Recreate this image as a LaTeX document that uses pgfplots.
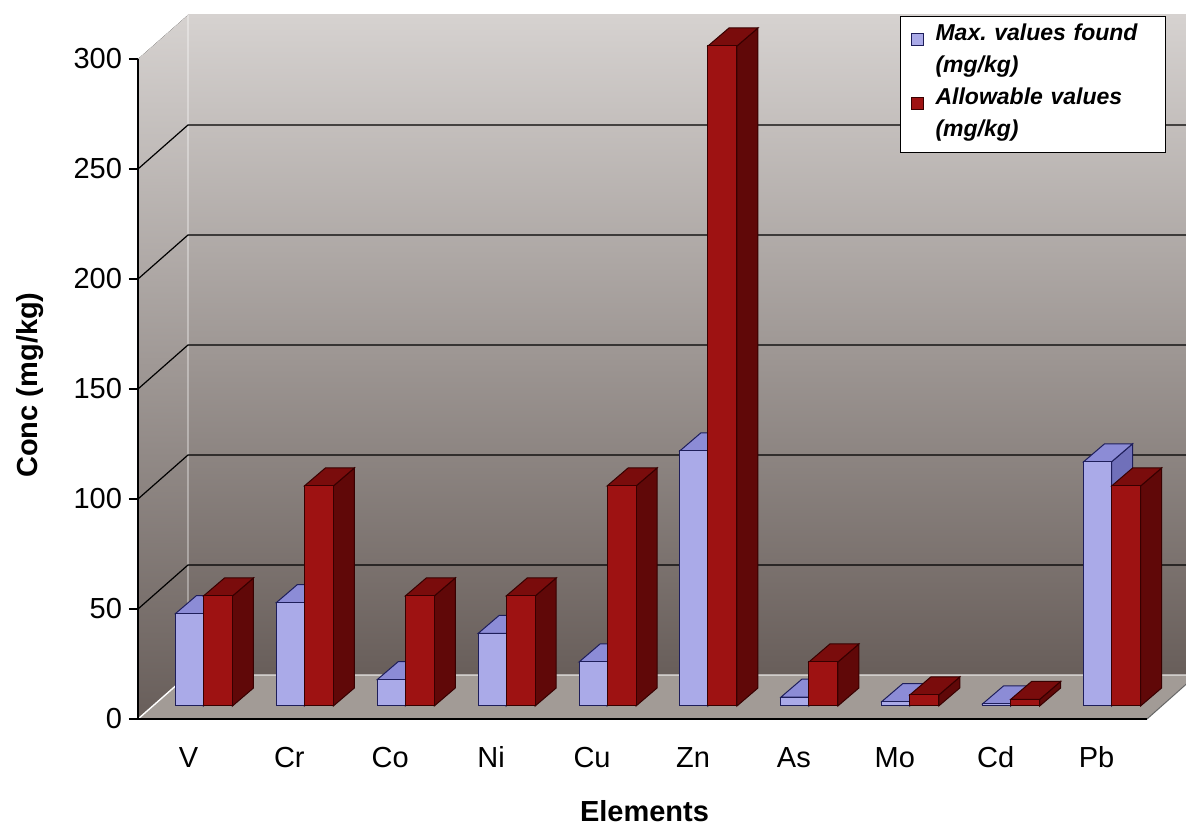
\documentclass[border=0pt]{standalone}
\usepackage{fontspec}
\setmainfont{Liberation Sans}
\usepackage{pgfplots}
\pgfplotsset{compat=1.18}

\definecolor{maxfront}{RGB}{170,170,232}
\definecolor{maxtop}{RGB}{140,140,214}
\definecolor{maxside}{RGB}{112,112,186}
\definecolor{maxedge}{RGB}{30,30,90}
\definecolor{alwfront}{RGB}{158,18,18}
\definecolor{alwtop}{RGB}{122,12,12}
\definecolor{alwside}{RGB}{96,8,8}
\definecolor{alwedge}{RGB}{55,0,0}
\definecolor{walltop}{RGB}{214,210,208}
\definecolor{wallbot}{RGB}{104,94,90}
\definecolor{floorc}{RGB}{162,155,150}

% 3-D column drawn as a plot mark; the mark origin is the data point (category, value).
% \fx,\fy: offset of the column front into the depth; \bx,\by: column depth; 1.1pt per unit.
\def\fx{7.5pt}\def\fy{6.5pt}\def\bx{10.5pt}\def\by{9pt}
\newcommand\threedbar[6]{% left, right, front, top, side, edge
  \pgfmathsetlengthmacro\bh{\barval*1.1pt}%
  \pgfsetlinewidth{0.5pt}%
  \pgfsetstrokecolor{#6}%
  \pgfsetfillcolor{#5}%
  \pgfpathmoveto{\pgfpoint{#2+\fx}{\fy-\bh}}%
  \pgfpathlineto{\pgfpoint{#2+\fx}{\fy}}%
  \pgfpathlineto{\pgfpoint{#2+\fx+\bx}{\fy+\by}}%
  \pgfpathlineto{\pgfpoint{#2+\fx+\bx}{\fy+\by-\bh}}%
  \pgfpathclose
  \pgfusepath{fill,stroke}%
  \pgfsetfillcolor{#4}%
  \pgfpathmoveto{\pgfpoint{#1+\fx}{\fy}}%
  \pgfpathlineto{\pgfpoint{#2+\fx}{\fy}}%
  \pgfpathlineto{\pgfpoint{#2+\fx+\bx}{\fy+\by}}%
  \pgfpathlineto{\pgfpoint{#1+\fx+\bx}{\fy+\by}}%
  \pgfpathclose
  \pgfusepath{fill,stroke}%
  \pgfsetfillcolor{#3}%
  \pgfpathrectanglecorners{\pgfpoint{#1+\fx}{\fy-\bh}}{\pgfpoint{#2+\fx}{\fy}}%
  \pgfusepath{fill,stroke}%
}
\pgfdeclareplotmark{barmax}{\threedbar{-14pt}{0pt}{maxfront}{maxtop}{maxside}{maxedge}}
\pgfdeclareplotmark{barallow}{\threedbar{0pt}{14.5pt}{alwfront}{alwtop}{alwside}{alwedge}}

\begin{document}
\begin{tikzpicture}
\path[use as bounding box] (0,0) rectangle (593pt,414pt);
\clip (0,0) rectangle (593pt,414pt);
\begin{axis}[
  at={(69pt,54.5pt)}, anchor=south west,
  x=50.45pt, y=1.1pt,
  xmin=-0.5, xmax=9.5, ymin=0, ymax=300,
  axis on top, clip=false,
  axis x line*=bottom, axis y line*=left,
  axis line style={black, line width=0.6pt},
  tick align=outside,
  tick style={black, line width=0.6pt},
  major tick length=4.5pt, minor tick length=6pt,
  xtick=\empty,
  minor xtick={-0.5,0.5,...,9.5},
  extra x ticks={0,1,2,3,4,5,6,7,8,9},
  extra x tick labels={V,Cr,Co,Ni,Cu,Zn,As,Mo,Cd,Pb},
  extra x tick style={major tick length=0pt,
    xticklabel style={anchor=base, yshift=-24pt}},
  ytick={0,50,...,300},
  /pgf/number format/assume math mode=true,
  ticklabel style={font=\fontsize{14.5}{17}\selectfont},
  xlabel={Elements},
  ylabel={Conc (mg/kg)},
  label style={font=\fontsize{14.5}{17}\selectfont\bfseries},
  xlabel style={at={(axis description cs:0.502,-0.14)}, anchor=center},
  ylabel style={at={(axis description cs:-0.107,0.506)}, anchor=center},
  legend style={at={(1.019,1.065)}, anchor=north east,
    draw=black, line width=0.6pt, fill=white,
    font=\fontsize{11.5}{13}\selectfont\bfseries\itshape,
    inner xsep=5pt, inner ysep=2pt, row sep=0pt, column sep=6pt,
    nodes={inner xsep=0pt, inner ysep=0pt, text height=10pt, text depth=6pt,
           text width=110pt, align=left}},
  legend cell align=left,
]
% side wall, back wall and floor
\fill[top color=walltop, bottom color=wallbot]
  (axis cs:-0.5,0) -- (axis cs:-0.5,300) -- (axis cs:-0.0045,320) -- (axis cs:-0.0045,20) -- cycle;
\fill[top color=walltop, bottom color=wallbot]
  (axis cs:-0.0045,20) -- (axis cs:-0.0045,320) -- (axis cs:10.3,320) -- (axis cs:10.3,20) -- cycle;
\fill[floorc]
  (axis cs:-0.5,0) -- (axis cs:9.5,0) -- (axis cs:9.9955,20) -- (axis cs:10.3,20) -- (axis cs:10.3,0) -- (axis cs:9.5,0) -- (axis cs:9.9955,20) -- (axis cs:-0.0045,20) -- cycle;
\fill[white] (axis cs:9.5,0) -- (axis cs:10.3,0) -- (axis cs:10.3,32.6) -- cycle;
\draw[white, opacity=0.35, line width=0.6pt] (axis cs:-0.0045,20) -- (axis cs:-0.0045,320);
\draw[white, line width=0.7pt] (axis cs:-0.5,0) -- (axis cs:-0.0045,20);
\draw[white, opacity=0.5, line width=0.7pt] (axis cs:-0.0045,20) -- (axis cs:10.3,20);
\draw[black!60, line width=0.5pt] (axis cs:9.5,0) -- (axis cs:10.3,32.6);
% gridlines on the walls
\draw[black, line width=0.6pt] (axis cs:-0.5,50) -- (axis cs:-0.0045,70) -- (axis cs:10.3,70);
\draw[black, line width=0.6pt] (axis cs:-0.5,100) -- (axis cs:-0.0045,120) -- (axis cs:10.3,120);
\draw[black, line width=0.6pt] (axis cs:-0.5,150) -- (axis cs:-0.0045,170) -- (axis cs:10.3,170);
\draw[black, line width=0.6pt] (axis cs:-0.5,200) -- (axis cs:-0.0045,220) -- (axis cs:10.3,220);
\draw[black, line width=0.6pt] (axis cs:-0.5,250) -- (axis cs:-0.0045,270) -- (axis cs:10.3,270);

% Max. values found (mg/kg)
\addplot[only marks, mark=barmax, forget plot,
  visualization depends on={rawy \as \barval}]
  coordinates {(0,42) (1,47) (2,12) (3,33) (4,20) (5,116) (6,4) (7,2) (8,1) (9,111)};
% Allowable values (mg/kg)
\addplot[only marks, mark=barallow, forget plot,
  visualization depends on={rawy \as \barval}]
  coordinates {(0,50) (1,100) (2,50) (3,50) (4,100) (5,300) (6,20) (7,5) (8,3) (9,100)};

\addlegendimage{legend image code/.code={\draw[draw=maxedge, fill=maxfront, line width=0.5pt] (0pt,-4.35pt) rectangle (6pt,1.65pt);}}
\addlegendentry{Max.\ values found}
\addlegendimage{empty legend}
\addlegendentry{(mg/kg)}
\addlegendimage{legend image code/.code={\draw[draw=alwedge, fill=alwfront, line width=0.5pt] (0pt,-4.35pt) rectangle (6pt,1.65pt);}}
\addlegendentry{Allowable values}
\addlegendimage{empty legend}
\addlegendentry{(mg/kg)}
\end{axis}
\end{tikzpicture}
\end{document}
